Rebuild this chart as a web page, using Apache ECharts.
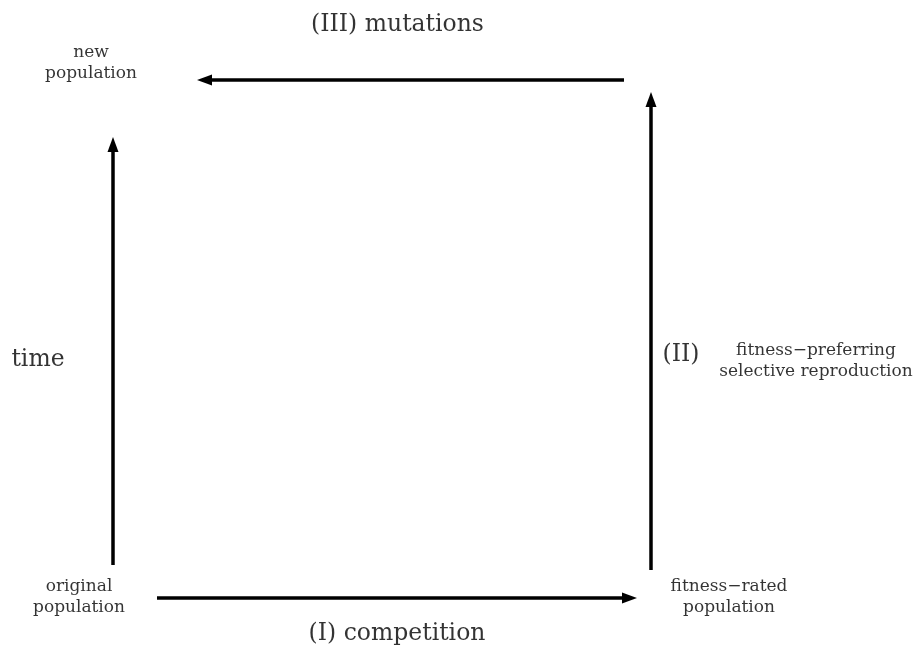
<!DOCTYPE html>
<html>
<head>
<meta charset="utf-8">
<script src="https://cdn.jsdelivr.net/npm/echarts@6/dist/echarts.min.js"></script>
<style>html,body{margin:0;padding:0;background:#fff}#c{width:920px;height:650px}</style>
</head>
<body>
<div id="c"></div>
<script>
// Arrow endpoints [from, to] in diagram units (x: 0..920, y: 0..650 from top);
// "to" is the centre of the arrowhead
const arrowNames = ['time', 'competition', 'reproduction', 'mutations'];
const arrowFrom = [[113, 565], [157, 598], [651, 570], [624, 80]];
const arrowTo   = [[113, 144.5], [629.5, 598], [651, 99.5], [204.5, 80]];

// Text labels
const bigLabels = ['(III) mutations', 'time', '(II)', '(I) competition'];
const bigPos = [[397.5, 25], [38, 360], [681, 355], [397, 634]];
const smallLabels = ['new\npopulation', 'original\npopulation', 'fitness\u2212rated\npopulation', 'fitness\u2212preferring\nselective reproduction'];
const smallPos = [[91, 63], [79, 597], [729, 597], [816, 361]];

const FONT = 'DejaVu Serif';
const ARROW = 'path://M7.5,0 L13,15 L2,15 Z M0,0 M15,15';
const chart = echarts.init(document.getElementById('c'));
chart.setOption({
  animation: false,
  grid: {left: 0, right: 0, top: 0, bottom: 0},
  xAxis: {type: 'value', min: 0, max: 920, show: false},
  yAxis: {type: 'value', min: 0, max: 650, inverse: true, show: false},
  series: [
    {
      type: 'lines',
      coordinateSystem: 'cartesian2d',
      symbol: ['none', ARROW],
      symbolSize: [15, 15],
      lineStyle: {color: '#000', width: 3.5, opacity: 1, curveness: 0},
      itemStyle: {color: '#000'},
      data: arrowNames.map((n, i) => ({name: n, coords: [arrowFrom[i], arrowTo[i]]}))
    },
    {
      type: 'scatter',
      symbolSize: 0,
      silent: true,
      label: {show: true, position: 'inside', formatter: p => p.name,
        fontFamily: FONT, fontSize: 23.5, color: '#000'},
      data: bigLabels.map((t, i) => ({name: t, value: bigPos[i]}))
    },
    {
      type: 'scatter',
      symbolSize: 0,
      silent: true,
      label: {show: true, position: 'inside', formatter: p => p.name,
        fontFamily: FONT, fontSize: 17, lineHeight: 21.5, color: '#000', align: 'center'},
      data: smallLabels.map((t, i) => ({name: t, value: smallPos[i]}))
    }
  ]
});
</script>
</body>
</html>
